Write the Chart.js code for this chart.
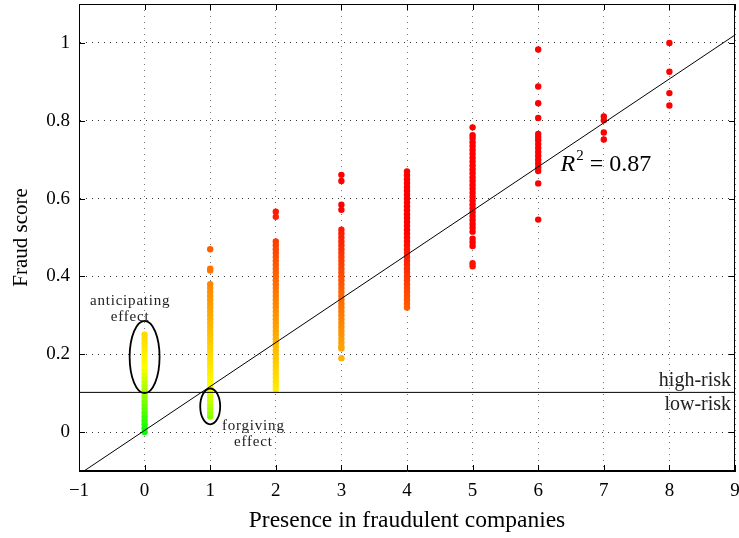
<!DOCTYPE html>
<html>
<head>
<meta charset="utf-8">
<script src="https://cdn.jsdelivr.net/npm/chart.js@4.4.1/dist/chart.umd.min.js"></script>
<style>
  body { margin: 0; background: #fff; }
  canvas { display: block; }
</style>
</head>
<body>
<canvas id="myChart" width="739" height="538"></canvas>
<script>
// data: fraud score per company, grouped by presence count
const presence = [0, 1, 2, 3, 4, 5, 6, 7, 8];
const scores0 = [0.00, 0.01, 0.02, 0.03, 0.04, 0.05, 0.06, 0.07, 0.08, 0.09, 0.10, 0.11, 0.12, 0.13,
  0.14, 0.15, 0.16, 0.17, 0.18, 0.19, 0.20, 0.21, 0.22, 0.23, 0.24, 0.25];
const scores1 = [0.04, 0.05, 0.06, 0.07, 0.08, 0.09, 0.10, 0.11, 0.12, 0.13, 0.14, 0.15, 0.16, 0.17,
  0.18, 0.19, 0.20, 0.21, 0.22, 0.23, 0.24, 0.25, 0.26, 0.27, 0.28, 0.29, 0.30, 0.31, 0.32, 0.33,
  0.34, 0.35, 0.36, 0.37, 0.38, 0.415, 0.42, 0.47];
const scores2 = [0.11, 0.12, 0.13, 0.14, 0.15, 0.16, 0.17, 0.18, 0.19, 0.20, 0.21, 0.22, 0.23, 0.24,
  0.25, 0.26, 0.27, 0.28, 0.29, 0.30, 0.31, 0.32, 0.33, 0.34, 0.35, 0.36, 0.37, 0.38, 0.39, 0.40,
  0.41, 0.42, 0.43, 0.44, 0.45, 0.46, 0.47, 0.48, 0.49, 0.553, 0.566];
const scores3 = [0.19, 0.215, 0.22, 0.23, 0.24, 0.25, 0.26, 0.27, 0.28, 0.29, 0.30, 0.31, 0.32, 0.33,
  0.34, 0.35, 0.36, 0.37, 0.38, 0.39, 0.40, 0.41, 0.42, 0.43, 0.44, 0.45, 0.46, 0.47, 0.48, 0.49,
  0.50, 0.51, 0.52, 0.571, 0.584, 0.645, 0.661];
const scores4 = [0.32, 0.33, 0.34, 0.35, 0.36, 0.37, 0.38, 0.39, 0.40, 0.41, 0.42, 0.43, 0.44, 0.45,
  0.46, 0.47, 0.48, 0.49, 0.50, 0.51, 0.52, 0.53, 0.54, 0.55, 0.56, 0.57, 0.58, 0.59, 0.60, 0.61,
  0.62, 0.63, 0.64, 0.65, 0.66, 0.67];
const scores5 = [0.426, 0.434, 0.478, 0.488, 0.497, 0.515, 0.525, 0.535, 0.545, 0.555, 0.565, 0.575,
  0.585, 0.595, 0.605, 0.615, 0.625, 0.635, 0.645, 0.655, 0.665, 0.675, 0.685, 0.695, 0.705, 0.715,
  0.725, 0.735, 0.745, 0.755, 0.763, 0.783];
const scores6 = [0.546, 0.639, 0.671, 0.68, 0.69, 0.70, 0.71, 0.72, 0.73, 0.74, 0.75, 0.758, 0.766,
  0.807, 0.845, 0.888, 0.983];
const scores7 = [0.752, 0.770, 0.801, 0.811];
const scores8 = [0.839, 0.871, 0.926, 1.0];
const scoreGroups = [scores0, scores1, scores2, scores3, scores4, scores5, scores6, scores7, scores8];

// fitted line and risk threshold
const fitSlope = 0.1129;
const fitIntercept = 0.0043;
const fitX = [-1, 9];
const riskThreshold = 0.102;

const xTicks = [-1, 0, 1, 2, 3, 4, 5, 6, 7, 8, 9];
const yTicks = [0, 0.2, 0.4, 0.6, 0.8, 1];

const points = [];
presence.forEach((p, i) => scoreGroups[i].forEach(s => points.push({ x: p, y: s })));

function scoreColor(ctx) {
  const pt = ctx.raw;
  if (!pt) return 'red';
  const t = pt.y + 0.05 * pt.x;
  let hue;
  if (t < 0.17) hue = 120 - (t / 0.17) * 60;
  else hue = Math.max(0, 60 - (t - 0.17) / 0.55 * 60);
  return 'hsl(' + hue.toFixed(1) + ', 100%, 50%)';
}

const serif = '"Liberation Serif", "DejaVu Serif", serif';

// extra drawing: frame, inner ticks, ellipses and labels
const annotations = {
  id: 'annotations',
  afterDatasetsDraw(chart) {
    const { ctx, chartArea: a, scales: { x, y } } = chart;
    ctx.save();
    // frame
    ctx.strokeStyle = '#000';
    ctx.lineWidth = 1;
    ctx.strokeRect(a.left + 0.5, a.top + 0.5, a.right - a.left - 1, a.bottom - a.top - 1);
    // inner tick marks
    ctx.beginPath();
    xTicks.forEach(v => {
      const px = Math.round(x.getPixelForValue(v)) + 0.5;
      ctx.moveTo(px, a.bottom); ctx.lineTo(px, a.bottom - 6);
      ctx.moveTo(px, a.top); ctx.lineTo(px, a.top + 6);
    });
    yTicks.forEach(v => {
      const py = Math.round(y.getPixelForValue(v)) + 0.5;
      ctx.moveTo(a.left, py); ctx.lineTo(a.left + 6, py);
      ctx.moveTo(a.right, py); ctx.lineTo(a.right - 6, py);
    });
    ctx.stroke();

    // ellipses
    ctx.lineWidth = 1.8;
    const ellipse = (cx, cy, rx, ry) => {
      const px = x.getPixelForValue(cx), py = y.getPixelForValue(cy);
      const prx = Math.abs(x.getPixelForValue(cx + rx) - px);
      const pry = Math.abs(y.getPixelForValue(cy + ry) - py);
      ctx.beginPath();
      ctx.ellipse(px, py, prx, pry, 0, 0, Math.PI * 2);
      ctx.stroke();
    };
    ellipse(0, 0.193, 0.228, 0.093);
    ellipse(1, 0.066, 0.152, 0.046);

    // text labels
    ctx.fillStyle = '#222';
    ctx.textBaseline = 'middle';
    ctx.textAlign = 'center';
    ctx.font = '15px ' + serif;
    ctx.letterSpacing = '0.8px';
    ctx.fillText('anticipating', x.getPixelForValue(-0.22), y.getPixelForValue(0.337));
    ctx.fillText('effect', x.getPixelForValue(-0.22), y.getPixelForValue(0.296));
    ctx.fillText('forgiving', x.getPixelForValue(1.657), y.getPixelForValue(0.015));
    ctx.fillText('effect', x.getPixelForValue(1.657), y.getPixelForValue(-0.026));
    ctx.letterSpacing = '0px';

    ctx.textAlign = 'right';
    ctx.font = '20px ' + serif;
    ctx.fillText('high-risk', x.getPixelForValue(8.94), y.getPixelForValue(0.133));
    ctx.fillText('low-risk', x.getPixelForValue(8.94), y.getPixelForValue(0.069));

    // R^2 = 0.87
    ctx.fillStyle = '#000';
    ctx.textAlign = 'left';
    let rx = x.getPixelForValue(6.34);
    const ry = y.getPixelForValue(0.686);
    ctx.font = 'italic 24px ' + serif;
    ctx.fillText('R', rx, ry);
    rx += ctx.measureText('R').width + 1;
    ctx.font = '15px ' + serif;
    ctx.fillText('2', rx, ry - 9);
    rx += ctx.measureText('2').width + 6;
    ctx.font = '24px ' + serif;
    ctx.fillText('= 0.87', rx, ry);
    ctx.restore();
  }
};

const data = {
  datasets: [
    {
      type: 'line',
      data: fitX.map(v => ({ x: v, y: fitSlope * v + fitIntercept })),
      borderColor: '#000',
      borderWidth: 1,
      pointRadius: 0,
      order: 0
    },
    {
      type: 'line',
      data: fitX.map(v => ({ x: v, y: riskThreshold })),
      borderColor: '#000',
      borderWidth: 1,
      pointRadius: 0,
      order: 0
    },
    {
      type: 'scatter',
      data: points,
      pointRadius: 3.2,
      pointBorderWidth: 0,
      pointBackgroundColor: scoreColor,
      order: 1
    }
  ]
};

const config = {
  type: 'scatter',
  data: data,
  options: {
    responsive: false,
    animation: false,
    devicePixelRatio: 1,
    layout: { padding: { top: 2, right: 1, left: 0, bottom: 0 } },
    plugins: { legend: { display: false }, tooltip: { enabled: false } },
    scales: {
      x: {
        type: 'linear',
        min: -1,
        max: 9,
        afterBuildTicks: s => { s.ticks = xTicks.map(v => ({ value: v })); },
        afterFit: s => { s.height = 67; s.paddingLeft = 0; s.paddingRight = 0; },
        ticks: {
          color: '#000',
          padding: 9,
          font: { family: serif, size: 19 },
          callback: v => (v < 0 ? '\u2212' + Math.abs(v) : String(v))
        },
        grid: { color: '#777', drawTicks: false, lineWidth: 1 },
        border: { display: true, color: '#000', dash: [1, 5] },
        title: {
          display: true,
          text: 'Presence in fraudulent companies',
          color: '#000',
          font: { family: serif, size: 23.5 },
          padding: { top: 0, bottom: 3 }
        }
      },
      y: {
        type: 'linear',
        min: -0.1,
        max: 1.1,
        afterBuildTicks: s => { s.ticks = yTicks.map(v => ({ value: v })); },
        afterFit: s => { s.width = 79; s.paddingTop = 0; s.paddingBottom = 0; },
        ticks: {
          color: '#000',
          padding: 9,
          font: { family: serif, size: 19 },
          callback: v => String(+v.toFixed(1))
        },
        grid: { color: '#333', drawTicks: false, lineWidth: 1 },
        border: { display: true, color: '#000', dash: [1, 5] },
        title: {
          display: true,
          text: 'Fraud score',
          color: '#000',
          font: { family: serif, size: 21 },
          padding: { top: 9, bottom: 0 }
        }
      }
    }
  },
  plugins: [annotations]
};

const myChart = new Chart(document.getElementById('myChart'), config);
</script>
</body>
</html>
